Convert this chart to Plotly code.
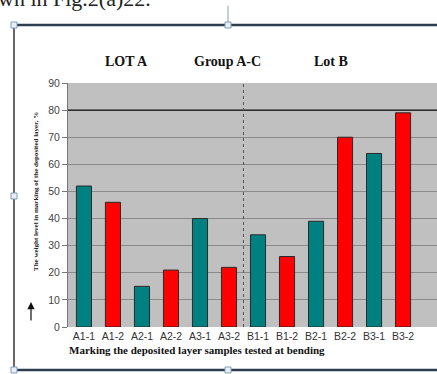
import plotly.graph_objects as go

categories = ["A1-1", "A1-2", "A2-1", "A2-2", "A3-1", "A3-2",
              "B1-1", "B1-2", "B2-1", "B2-2", "B3-1", "B3-2"]
values = [52, 46, 15, 21, 40, 22, 34, 26, 39, 70, 64, 79]
bar_colors = ["#008080", "#ff0000"] * 6
y_ticks = [0, 10, 20, 30, 40, 50, 60, 70, 80, 90]
group_labels = ["LOT A", "Group A-C", "Lot B"]

W, H = 437, 374
L, R, T, B = 68, 0, 83, 47
pw, ph = W - L - R, H - T - B

def px(x):
    return (x - L) / pw

def py(y):
    return 1 - (y - T) / ph

fig = go.Figure()
fig.add_trace(go.Bar(
    x=list(range(len(categories))), y=values,
    marker=dict(color=bar_colors, line=dict(color="#2a2a2a", width=1)),
    width=0.52,
))

shapes = [
    dict(type="line", xref="paper", x0=0, x1=1, yref="y", y0=80, y1=80,
         line=dict(color="#111111", width=1.3), layer="above"),
    dict(type="line", xref="x", x0=5.5, x1=5.5, yref="y", y0=0, y1=90,
         line=dict(color="#555555", width=1, dash="dot"), layer="above"),
    dict(type="line", xref="paper", yref="paper", x0=px(14), x1=px(440), y0=py(25), y1=py(25),
         line=dict(color="#2c3e50", width=2.5)),
    dict(type="line", xref="paper", yref="paper", x0=px(14), x1=px(14), y0=py(25), y1=py(370),
         line=dict(color="#333333", width=1.5)),
    dict(type="line", xref="paper", yref="paper", x0=px(14), x1=px(440), y0=py(370), y1=py(370),
         line=dict(color="#2c3e50", width=2.5)),
    dict(type="line", xref="paper", yref="paper", x0=px(228), x1=px(228), y0=py(6), y1=py(25),
         line=dict(color="#8aa0b0", width=1)),
]
for hx, hy in [(14, 25), (228, 25), (228, 370), (14, 370), (14, 196)]:
    shapes.append(dict(type="rect", xref="paper", yref="paper",
                       x0=px(hx - 3), x1=px(hx + 3), y0=py(hy - 3), y1=py(hy + 3),
                       line=dict(color="#7f9db9", width=1), fillcolor="#e8eef4"))

annotations = []
for label, xc in zip(group_labels, [103, 227, 350]):
    annotations.append(dict(text="<b>" + label + "</b>", xref="paper", yref="paper",
                            x=px(xc), y=py(52), showarrow=False,
                            font=dict(family="Liberation Serif", size=14, color="#111111")))
annotations.append(dict(text="<b>Marking the deposited layer samples tested at bending</b>",
                        xref="paper", yref="paper", x=px(67), y=py(358), xanchor="left",
                        showarrow=False,
                        font=dict(family="Liberation Serif", size=11, color="#111111")))
annotations.append(dict(text="<b>The weight level in marking of the deposited layer, %</b>",
                        xref="paper", yref="paper", x=px(30), y=py(192), textangle=-90,
                        showarrow=False,
                        font=dict(family="Liberation Serif", size=7, color="#222222")))
annotations.append(dict(text="", xref="paper", yref="paper", x=px(31), y=py(302),
                        ax=0, ay=20, showarrow=True, arrowhead=2, arrowsize=1.2,
                        arrowwidth=1.2, arrowcolor="#111111"))
annotations.append(dict(text="wn in Fig.2(a)22.", xref="paper", yref="paper",
                        x=px(-4), y=py(13), xanchor="left", yanchor="bottom",
                        showarrow=False,
                        font=dict(family="Liberation Serif", size=22, color="#222222")))

fig.update_layout(
    width=W, height=H,
    margin=dict(l=L, r=R, t=T, b=B),
    paper_bgcolor="white", plot_bgcolor="#c0c0c0",
    showlegend=False,
    bargap=0.48,
    xaxis=dict(range=[-0.55, 12.17], tickvals=list(range(len(categories))),
               ticktext=categories, showgrid=False, zeroline=False,
               tickfont=dict(family="Liberation Sans", size=10.5, color="#333333"),
               ticks="", ticklabelstandoff=1, fixedrange=True),
    yaxis=dict(range=[0, 90], tickvals=y_ticks, showgrid=True, gridcolor="#8a8a8a",
               gridwidth=1, zeroline=False, showline=True, linecolor="#777777",
               ticks="outside", ticklen=5, tickcolor="#777777",
               tickfont=dict(family="Liberation Sans", size=10.5, color="#444444")),
    shapes=shapes, annotations=annotations,
)

fig.write_html("out.html", config={"displayModeBar": False},
               post_script="document.body.style.margin='0';document.body.style.overflow='hidden';")
